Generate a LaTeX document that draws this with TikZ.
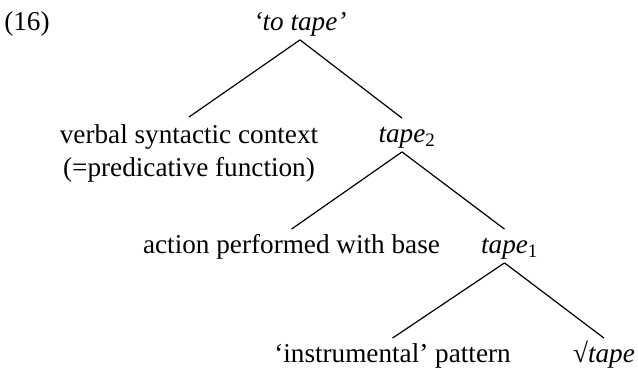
\documentclass[tikz,border=0pt]{standalone}
\usepackage{fontspec}
\setmainfont{Liberation Serif}
\begin{document}
\begin{tikzpicture}[x=0.5pt,y=-0.5pt,
  lbl/.style={inner xsep=0pt, inner ysep=2.75pt, text height=9pt, text depth=2pt, anchor=base, font=\fontsize{13.6}{16.5}\selectfont},
  twoline/.style={inner xsep=0pt, inner ysep=3.5pt, align=center, anchor=north, font=\fontsize{13.6}{16.5}\selectfont},
  branch/.style={line width=0.6pt}]

	\useasboundingbox (0,0) rectangle (638,372);

	\node[lbl] (num) at (27,30) {(16)};
	\node[lbl] (root) at (300,30) {\textit{‘to tape’}};

	\node[twoline] (verbal) at (189,117) {verbal syntactic context\\(=predicative function)};
	\node[lbl] (tapeB) at (402,142) {\textit{tape}\rlap{\textsubscript{2}}};

	\node[lbl] (action) at (291.5,253) {action performed with base};
	\node[lbl] (tapeA) at (504.5,253) {\textit{tape}\rlap{\textsubscript{1}}};

	\node[lbl] (instr) at (392.5,362) {‘instrumental’ pattern};
	\node[lbl] (root0) at (604,362) {√\textit{tape}};

	\draw[branch] (root.south) -- (verbal.north);
	\draw[branch] (root.south) -- (tapeB.north);
	\draw[branch] (tapeB.south) -- (action.north);
	\draw[branch] (tapeB.south) -- (tapeA.north);
	\draw[branch] (tapeA.south) -- (instr.north);
	\draw[branch] (tapeA.south) -- (root0.north);

\end{tikzpicture}
\end{document}
